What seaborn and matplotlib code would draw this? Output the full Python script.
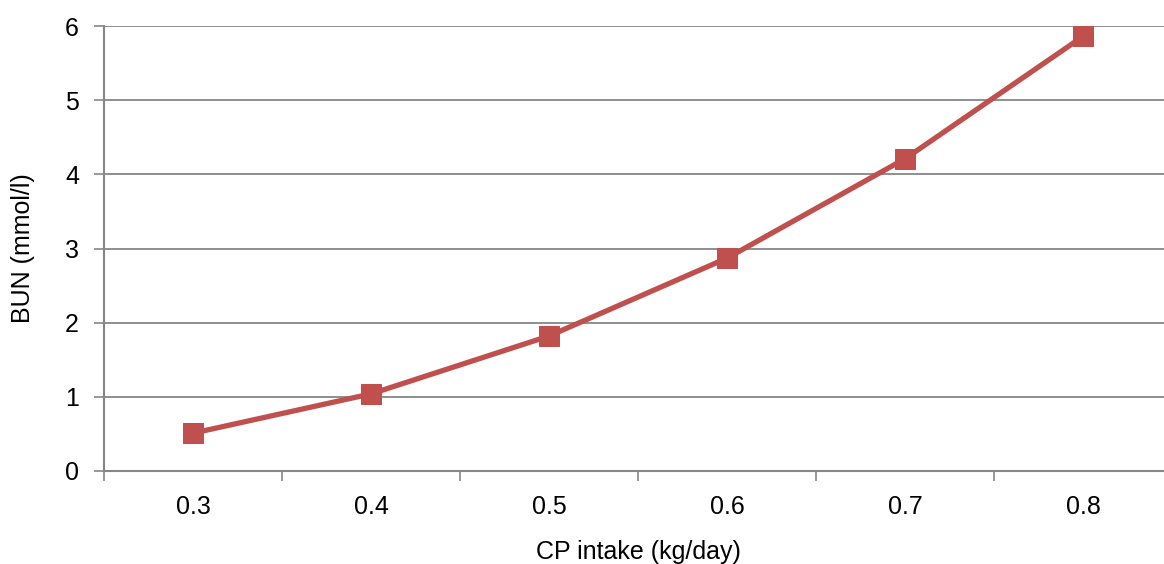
import matplotlib
matplotlib.use("Agg")
import matplotlib.pyplot as plt
import seaborn as sns
import pandas as pd

# CP intake levels and corresponding blood urea nitrogen
cp_intake = ["0.3", "0.4", "0.5", "0.6", "0.7", "0.8"]
bun = [0.51, 1.04, 1.82, 2.87, 4.21, 5.86]
y_ticks = [0, 1, 2, 3, 4, 5, 6]

sns.set_theme(style="white")
plt.rcParams["font.family"] = ["Liberation Sans", "DejaVu Sans"]

df = pd.DataFrame({"cp": cp_intake, "bun": bun})

fig = plt.figure(figsize=(11.64, 5.64), dpi=100)
ax = fig.add_axes([104 / 1164, 1 - 471 / 564, 1068 / 1164, 445 / 564])

grid_col = "#868686"
fs = 18
sns.lineplot(data=df, x="cp", y="bun", ax=ax, color="#C0504D", linewidth=3.8,
             marker="s", markersize=14.5, markeredgecolor="#C0504D", sort=False,
             zorder=3)

ax.set_xlim(-0.5, len(cp_intake) - 0.5)
ax.set_ylim(0, 6)
ax.set_yticks(y_ticks)
ax.set_yticklabels([str(t) for t in y_ticks])
ax.yaxis.grid(True, color=grid_col, linewidth=1.3)
ax.set_axisbelow(True)

# category labels centred, tick marks on category boundaries
ax.set_xticks(range(len(cp_intake)))
ax.set_xticklabels(cp_intake)
ax.set_xticks([i - 0.5 for i in range(len(cp_intake) + 1)], minor=True)
ax.tick_params(axis="x", which="major", length=0, pad=17, labelsize=fs, colors="black")
ax.tick_params(axis="x", which="minor", length=7, width=1.2, color=grid_col, direction="out", bottom=True)
ax.tick_params(axis="y", which="major", length=7, width=1.2, color=grid_col, direction="out",
               left=True, pad=11, labelsize=fs, labelcolor="black")

for side in ["top", "right"]:
    ax.spines[side].set_visible(False)
for side in ["left", "bottom"]:
    ax.spines[side].set_color(grid_col)
    ax.spines[side].set_linewidth(1.5)

ax.set_xlabel("CP intake (kg/day)", fontsize=fs, color="black")
ax.set_ylabel("BUN (mmol/l)", fontsize=fs, color="black")
ax.xaxis.set_label_coords(0.5, (471 - 540) / 445)
ax.yaxis.set_label_coords((35 - 104) / 1068, 0.5)

fig.savefig("out.png", dpi=100)
